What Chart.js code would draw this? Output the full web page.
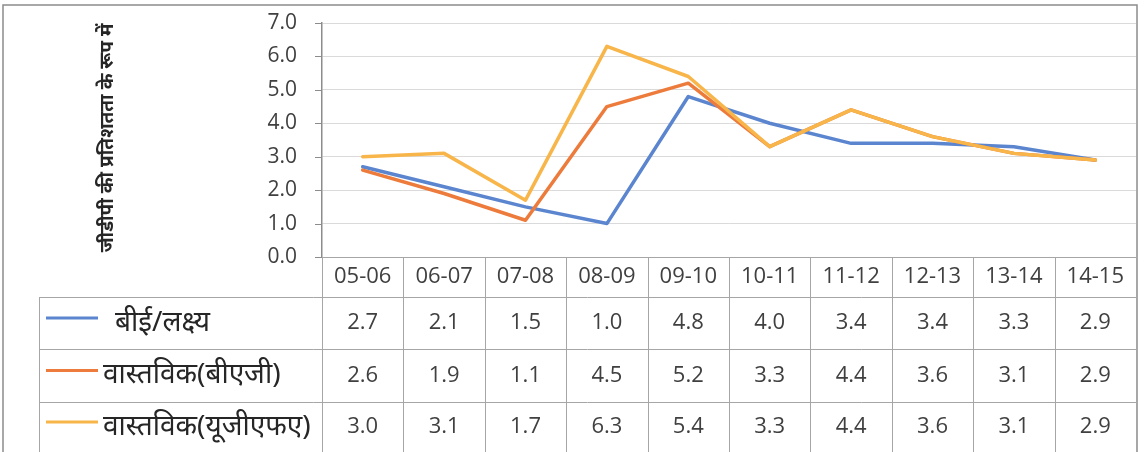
<!DOCTYPE html>
<html lang="hi">
<head>
  <meta charset="UTF-8">
  <title>जीडीपी की प्रतिशतता</title>
  <script src="https://cdn.jsdelivr.net/npm/chart.js"></script>
  <style>
    html, body { margin: 0; padding: 0; background: #fff; }
    #wrap { width: 1147px; height: 452px; position: relative; }
  </style>
</head>
<body>
  <div id="wrap"><canvas id="gdpChart" width="1147" height="452"></canvas></div>

  <script>
    // data
    const years = ['05-06', '06-07', '07-08', '08-09', '09-10', '10-11', '11-12', '12-13', '13-14', '14-15'];
    const targetBE = [2.7, 2.1, 1.5, 1.0, 4.8, 4.0, 3.4, 3.4, 3.3, 2.9];
    const actualBAG = [2.6, 1.9, 1.1, 4.5, 5.2, 3.3, 4.4, 3.6, 3.1, 2.9];
    const actualUGFA = [3.0, 3.1, 1.7, 6.3, 5.4, 3.3, 4.4, 3.6, 3.1, 2.9];
    const seriesNames = ['बीई/लक्ष्य', 'वास्तविक(बीएजी)', 'वास्तविक(यूजीएफए)'];
    const yTicks = [0, 1, 2, 3, 4, 5, 6, 7];
    const yTitle = 'जीडीपी की प्रतिशतता के रूप में';

    const colors = ['#5b86cf', '#ec7b3c', '#f8b54a'];
    const textColor = '#404040';
    const lineGrey = '#a6a6a6';
    const numFont = '22px "Open Sans", "Noto Sans", sans-serif';
    const hindiFont = '28px "Noto Sans", "Open Sans", sans-serif';

    // border round the whole chart, y title, short y ticks and the data table under the plot
    const tablePlugin = {
      id: 'dataTable',
      afterDraw(chart) {
        const ctx = chart.ctx;
        const area = chart.chartArea;
        const x = chart.scales.x;
        const y = chart.scales.y;
        const allSeries = [targetBE, actualBAG, actualUGFA];

        ctx.save();
        // outer frame
        ctx.strokeStyle = '#8c8c8c';
        ctx.lineWidth = 1.5;
        ctx.strokeRect(3, 5, area.right - 2, 460);

        // short tick marks left of the y axis
        ctx.lineWidth = 1;
        ctx.beginPath();
        yTicks.forEach(v => {
          const py = Math.round(y.getPixelForValue(v)) + 0.5;
          ctx.moveTo(area.left - 7, py);
          ctx.lineTo(area.left, py);
        });
        ctx.stroke();

        // y axis title
        ctx.save();
        ctx.translate(108, 138);
        ctx.rotate(-Math.PI / 2);
        ctx.font = 'bold 19px "Noto Sans", sans-serif';
        ctx.fillStyle = '#262626';
        ctx.textAlign = 'center';
        ctx.textBaseline = 'middle';
        ctx.fillText(yTitle, 0, 0);
        ctx.restore();

        // column edges from the category scale
        const edges = [area.left];
        for (let i = 0; i < years.length - 1; i++) {
          edges.push((x.getPixelForValue(i) + x.getPixelForValue(i + 1)) / 2);
        }
        edges.push(area.right);

        const headTop = area.bottom;
        const rows = [297, 349, 402, 460];
        const tableLeft = 39;

        ctx.strokeStyle = lineGrey;
        ctx.lineWidth = 1;
        ctx.beginPath();
        // x axis line / header top
        ctx.moveTo(area.left, headTop + 0.5);
        ctx.lineTo(area.right, headTop + 0.5);
        edges.forEach(e => {
          ctx.moveTo(Math.round(e) + 0.5, headTop);
          ctx.lineTo(Math.round(e) + 0.5, rows[3]);
        });
        for (let r = 0; r < 3; r++) {
          ctx.moveTo(tableLeft, rows[r] + 0.5);
          ctx.lineTo(area.right, rows[r] + 0.5);
        }
        ctx.moveTo(tableLeft + 0.5, rows[0]);
        ctx.lineTo(tableLeft + 0.5, rows[3]);
        ctx.stroke();

        ctx.fillStyle = textColor;
        ctx.textAlign = 'center';
        ctx.textBaseline = 'middle';
        ctx.font = numFont;
        years.forEach((yr, i) => ctx.fillText(yr, x.getPixelForValue(i), (headTop + rows[0]) / 2));

        allSeries.forEach((vals, r) => {
          const cy = (rows[r] + Math.min(rows[r + 1], 452)) / 2;
          ctx.font = numFont;
          ctx.textAlign = 'center';
          ctx.fillStyle = textColor;
          vals.forEach((v, i) => ctx.fillText(v.toFixed(1), x.getPixelForValue(i), cy));

          // legend key + name
          ctx.strokeStyle = colors[r];
          ctx.lineWidth = 3;
          ctx.beginPath();
          ctx.moveTo(46, cy - 5);
          ctx.lineTo(98, cy - 5);
          ctx.stroke();
          ctx.font = hindiFont;
          ctx.textAlign = 'left';
          ctx.fillStyle = '#262626';
          ctx.fillText(seriesNames[r], r === 0 ? 115 : 103, cy);
        });
        ctx.restore();
      }
    };

    const ctx = document.getElementById('gdpChart').getContext('2d');
    const gdpChart = new Chart(ctx, {
      type: 'line',
      data: {
        labels: years,
        datasets: [
          { label: seriesNames[0], data: targetBE, borderColor: colors[0], order: 2 },
          { label: seriesNames[1], data: actualBAG, borderColor: colors[1], order: 1 },
          { label: seriesNames[2], data: actualUGFA, borderColor: colors[2], order: 0 }
        ]
      },
      options: {
        responsive: false,
        devicePixelRatio: 1,
        animation: false,
        layout: { padding: { top: 23, right: 11, bottom: 195, left: 0 } },
        elements: {
          line: { borderWidth: 3.5, tension: 0, borderCapStyle: 'round', borderJoinStyle: 'round' },
          point: { radius: 0 }
        },
        plugins: {
          legend: { display: false },
          tooltip: { enabled: false }
        },
        scales: {
          x: {
            display: false,
            offset: true
          },
          y: {
            min: yTicks[0],
            max: yTicks[yTicks.length - 1],
            afterFit(scale) { scale.width = 322; },
            afterBuildTicks(scale) { scale.ticks = yTicks.map(v => ({ value: v })); },
            ticks: {
              color: textColor,
              font: { family: '"Open Sans", sans-serif', size: 21 },
              padding: 4,
              callback: v => v.toFixed(1)
            },
            grid: {
              color: '#dadada',
              tickColor: 'rgba(0,0,0,0)',
              tickLength: 21
            },
            border: { color: '#8c8c8c', width: 1.5 }
          }
        }
      },
      plugins: [tablePlugin]
    });
  </script>
</body>
</html>
